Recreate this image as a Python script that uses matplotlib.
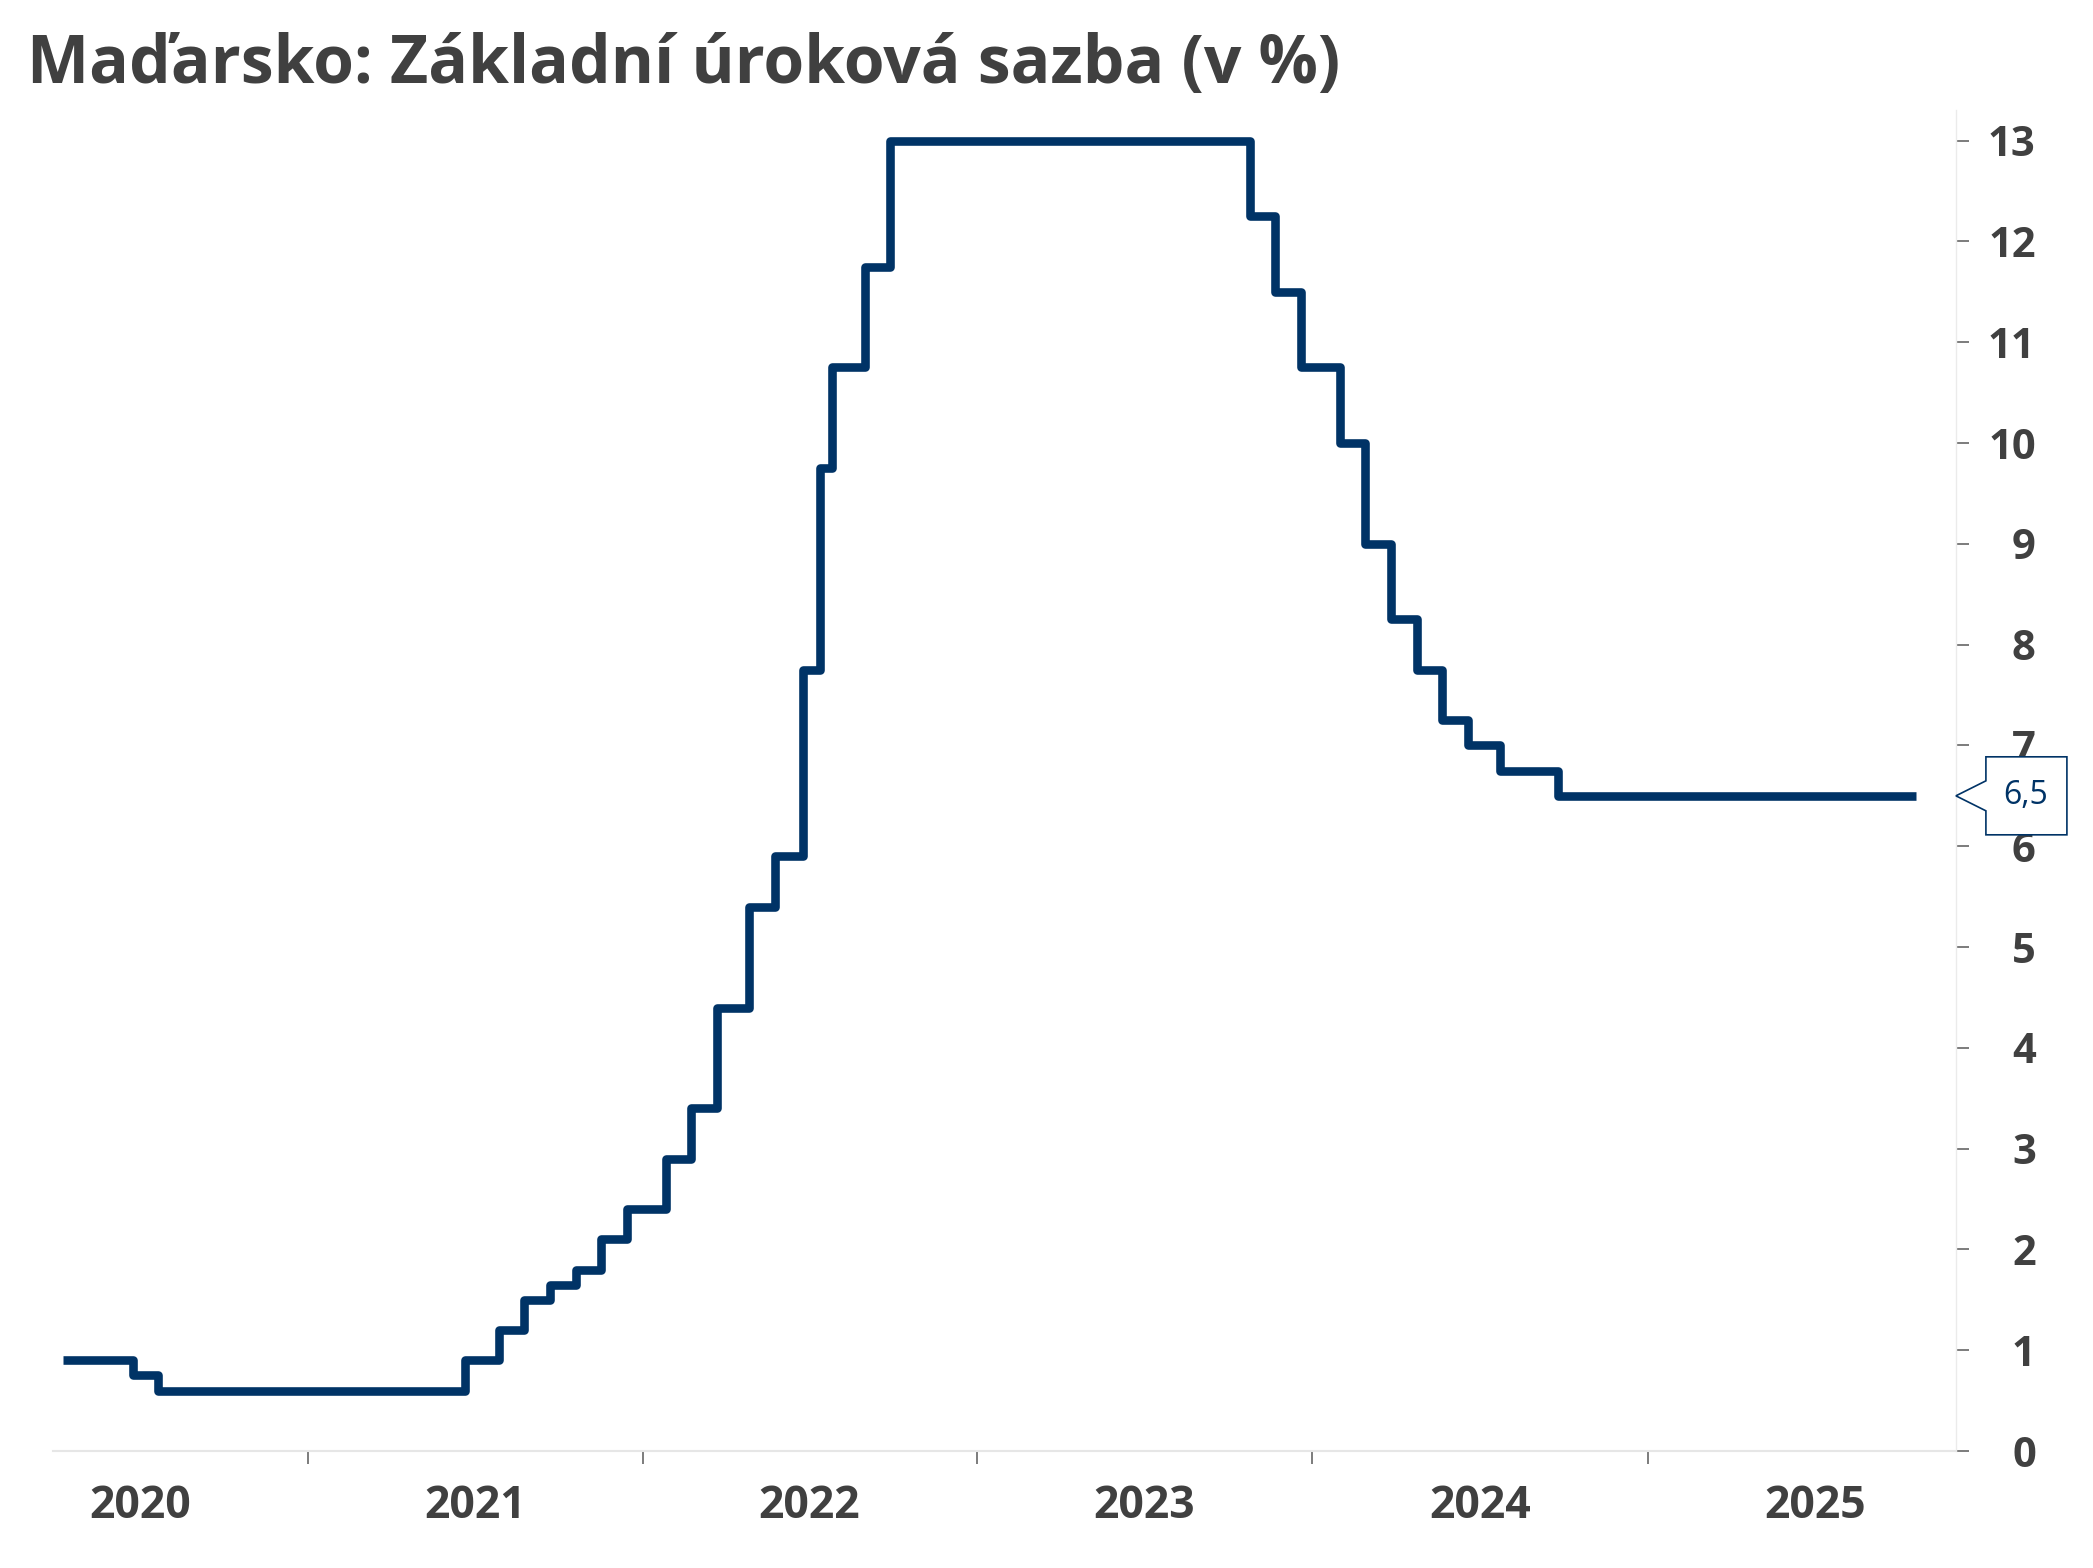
import matplotlib
matplotlib.use("Agg")
import matplotlib.pyplot as plt
import matplotlib.transforms as mtransforms
from matplotlib.patches import Polygon
import pandas as pd

# base rate changes (effective dates) and the rate valid from that date
change_dates = [
    "2020-04-09", "2020-06-24", "2020-07-22",
    "2021-06-21", "2021-07-28", "2021-08-25", "2021-09-22", "2021-10-20",
    "2021-11-17", "2021-12-15",
    "2022-01-26", "2022-02-23", "2022-03-23", "2022-04-27", "2022-05-25",
    "2022-06-25", "2022-07-13", "2022-07-27", "2022-08-31", "2022-09-28",
    "2023-10-25", "2023-11-22", "2023-12-20",
    "2024-01-31", "2024-02-28", "2024-03-27", "2024-04-24", "2024-05-22",
    "2024-06-19", "2024-07-24", "2024-09-25",
    "2025-10-20",
]
rates = [
    0.9, 0.75, 0.6,
    0.9, 1.2, 1.5, 1.65, 1.8,
    2.1, 2.4,
    2.9, 3.4, 4.4, 5.4, 5.9,
    7.75, 9.75, 10.75, 11.75, 13.0,
    12.25, 11.5, 10.75,
    10.0, 9.0, 8.25, 7.75, 7.25,
    7.0, 6.75, 6.5,
    6.5,
]
years = [2020, 2021, 2022, 2023, 2024, 2025]
y_ticks = list(range(0, 14))
last_label = "6,5"

title = "Maďarsko: Základní úroková sazba (v %)"

dates = pd.to_datetime(change_dates)
navy = "#003366"
txt = "#404040"

fig = plt.figure(figsize=(20.93, 15.68), dpi=100)
ax = fig.add_axes([0.0253, 0.0746, 0.9092, 0.855])

ax.plot(dates, rates, drawstyle="steps-post", color=navy, lw=6.2,
        solid_joinstyle="round", solid_capstyle="butt")

ax.set_xlim(pd.Timestamp("2020-03-29"), pd.Timestamp("2025-12-03"))
ax.set_ylim(0, 13.3)

# y axis on the right
ax.yaxis.tick_right()
ax.set_yticks(y_ticks)
ax.tick_params(axis="y", which="major", length=9.5, width=1.1, color="#595959",
               pad=48, labelsize=30, labelcolor=txt)
for lab in ax.get_yticklabels():
    lab.set_fontweight("bold")
    lab.set_fontfamily("Open Sans")
    lab.set_horizontalalignment("right")

# x axis: ticks at year boundaries, labels at mid-year
ax.set_xticks([pd.Timestamp(f"{y}-01-01") for y in years[1:]], minor=True)
ax.set_xticks([pd.Timestamp(f"{y}-07-02") for y in years])
ax.set_xticklabels([str(y) for y in years], fontsize=32, fontweight="bold",
                   color=txt, fontfamily="Open Sans")
ax.tick_params(axis="x", which="major", length=0, pad=24)
ax.tick_params(axis="x", which="minor", length=9.5, width=1.1, color="#595959")

for s in ["top", "left"]:
    ax.spines[s].set_visible(False)
ax.spines["bottom"].set_color("#e6e6e6")
ax.spines["bottom"].set_linewidth(1.5)
ax.spines["right"].set_color("#ebebeb")
ax.spines["right"].set_linewidth(1.0)

# callout with the last value
anchor = mtransforms.ScaledTranslation(1.0, rates[-1], ax.get_yaxis_transform())
tr = mtransforms.Affine2D() + anchor
verts = [(0, 0), (30, 15), (30, 39), (111, 39), (111, -39), (30, -39), (30, -15)]
ax.add_patch(Polygon(verts, closed=True, transform=tr, facecolor="white",
                     edgecolor=navy, lw=1.2, clip_on=False, zorder=5))
ax.text(70, 0, last_label, transform=tr, ha="center", va="center",
        fontsize=23, color=navy, fontfamily="Open Sans", zorder=6)

fig.text(0.013, 0.958, title, fontsize=47.5, fontweight="bold", color=txt,
         fontfamily="Open Sans", ha="left", va="center")

fig.savefig("out.png", dpi=100, facecolor="white")
